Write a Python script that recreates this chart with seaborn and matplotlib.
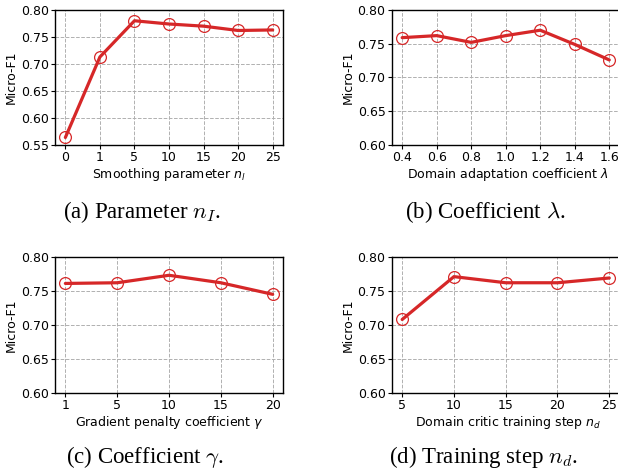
import numpy as np
import pandas as pd
import matplotlib
matplotlib.use('Agg')
import matplotlib.pyplot as plt
import seaborn as sns

# --------------------------
# Data
# --------------------------
n_i_labels = ['0', '1', '5', '10', '15', '20', '25']
n_i_f1 = [0.564, 0.713, 0.780, 0.774, 0.770, 0.762, 0.763]

lambda_labels = ['0.4', '0.6', '0.8', '1.0', '1.2', '1.4', '1.6']
lambda_f1 = [0.759, 0.762, 0.752, 0.762, 0.770, 0.749, 0.726]

gamma_labels = ['1', '5', '10', '15', '20']
gamma_f1 = [0.761, 0.762, 0.773, 0.762, 0.745]

n_d_labels = ['5', '10', '15', '20', '25']
n_d_f1 = [0.708, 0.771, 0.762, 0.762, 0.769]

sns.set_style('ticks')
plt.rcParams['font.family'] = ['DejaVu Sans']
plt.rcParams['mathtext.fontset'] = 'dejavusans'
plt.rcParams['text.color'] = 'black'
plt.rcParams['axes.labelcolor'] = 'black'
plt.rcParams['xtick.color'] = 'black'
plt.rcParams['ytick.color'] = 'black'

RED = '#d62728'

fig = plt.figure(figsize=(6.18, 4.74), dpi=100)

panels = [
    # labels, values, xlabel, ylim, yticks, axes rect, right pad (intervals)
    (n_i_labels, n_i_f1, 'Smoothing parameter $n_l$', (0.55, 0.80),
     np.arange(0.55, 0.801, 0.05), [0.089, 0.694, 0.369, 0.285], 0.05),
    (lambda_labels, lambda_f1, 'Domain adaptation coefficient $\\lambda$', (0.60, 0.80),
     np.arange(0.60, 0.801, 0.05), [0.634, 0.694, 0.376, 0.285], 0.072),
    (gamma_labels, gamma_f1, 'Gradient penalty coefficient $\\gamma$', (0.60, 0.80),
     np.arange(0.60, 0.801, 0.05), [0.089, 0.171, 0.369, 0.287], 0.05),
    (n_d_labels, n_d_f1, 'Domain critic training step $n_d$', (0.60, 0.80),
     np.arange(0.60, 0.801, 0.05), [0.634, 0.171, 0.376, 0.287], 0.072),
]

for labels, vals, xlabel, ylim, yticks, rect, rpad in panels:
    ax = fig.add_axes(rect)
    df = pd.DataFrame({'pos': np.arange(len(labels)), 'f1': vals})
    sns.lineplot(data=df, x='pos', y='f1', ax=ax, color=RED, linewidth=2.3,
                 marker='o', markersize=8.5, markerfacecolor='none',
                 markeredgecolor=RED, markeredgewidth=0.9)
    span = len(labels) - 1
    ax.set_xlim(-0.05 * span, span + rpad * span)
    ax.set_xticks(df['pos'])
    ax.set_xticklabels(labels)
    ax.set_ylim(*ylim)
    ax.set_yticks(yticks)
    ax.set_yticklabels([f'{t:.2f}' for t in yticks])
    ax.set_xlabel(xlabel, fontsize=9, labelpad=1)
    ax.set_ylabel('Micro-F1', fontsize=9, labelpad=2)
    ax.tick_params(labelsize=9, length=3, width=0.8, pad=1.5)
    ax.grid(True, linestyle='--', color='#b0b0b0', linewidth=0.7)
    for s in ax.spines.values():
        s.set_visible(True)
        s.set_color('black')
        s.set_linewidth(1.0)

# Sub-captions
cap_kw = dict(fontsize=16.5, family='Liberation Serif', ha='center', va='center',
              math_fontfamily='cm')
fig.text(0.230, 0.553, '(a) Parameter $n_I$.', **cap_kw)
fig.text(0.785, 0.553, '(b) Coefficient $\\lambda$.', **cap_kw)
fig.text(0.235, 0.036, '(c) Coefficient $\\gamma$.', **cap_kw)
fig.text(0.782, 0.036, '(d) Training step $n_d$.', **cap_kw)

fig.savefig('out.png', dpi=100, facecolor='white')
